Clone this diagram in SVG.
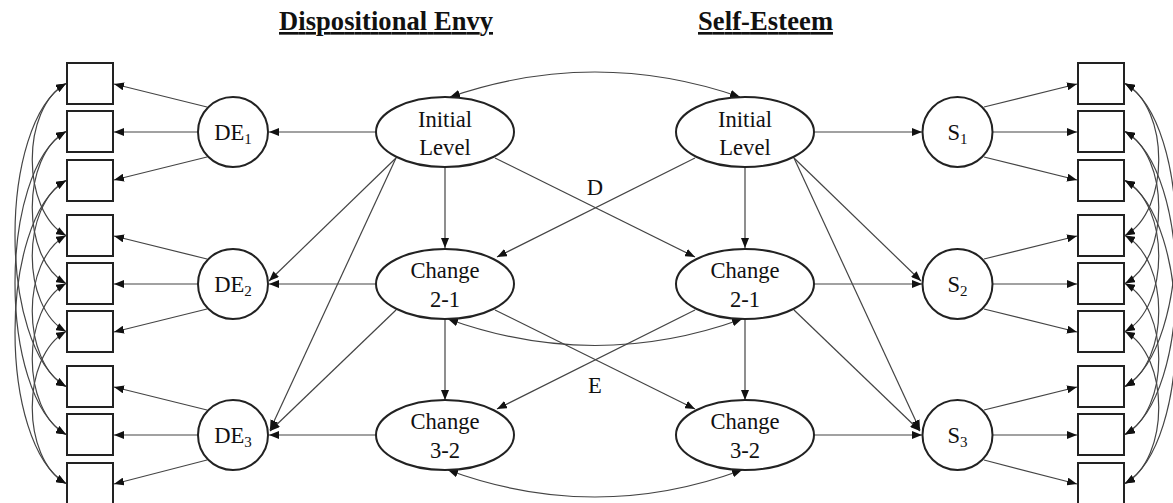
<svg xmlns="http://www.w3.org/2000/svg" width="1173" height="503" viewBox="0 0 1173 503">
<style>
.box{fill:#fff;stroke:#222;stroke-width:2}
.lat{fill:#fff;stroke:#222;stroke-width:2}
.c{fill:none;stroke:#444;stroke-width:1.2}
.a{marker-end:url(#ah)}
.d{marker-start:url(#ah);marker-end:url(#ah)}
.t{font-family:"Liberation Serif","Times New Roman",serif;font-size:22.6px;fill:#111;text-anchor:middle}
.s{font-size:15px}
.h{font-family:"Liberation Serif","Times New Roman",serif;font-size:26.5px;font-weight:bold;fill:#111;text-anchor:middle;text-decoration:underline}
</style>
<defs>
<marker id="ah" viewBox="0 0 10 8" refX="10" refY="4" markerWidth="10" markerHeight="8" markerUnits="userSpaceOnUse" orient="auto-start-reverse"><path d="M0,0 L10,4 L0,8 z" fill="#111"/></marker>
</defs>
<rect width="1173" height="503" fill="#fff"/>
<g id="titles">
<text class="h" x="386" y="30" textLength="214">Dispositional Envy</text>
<text class="h" x="765.5" y="30" textLength="135">Self-Esteem</text>
</g>
<g id="connectors">
<!-- left indicator loadings -->
<path class="c a" d="M207,107 L114,84"/>
<path class="c a" d="M198,132 L114,132"/>
<path class="c a" d="M207,157 L114,180"/>
<path class="c a" d="M207,259 L114,236"/>
<path class="c a" d="M198,284 L114,284"/>
<path class="c a" d="M207,309 L114,332"/>
<path class="c a" d="M207,410 L114,387"/>
<path class="c a" d="M198,435 L114,435"/>
<path class="c a" d="M207,460 L114,484"/>
<!-- right indicator loadings -->
<path class="c a" d="M984,107 L1077,84"/>
<path class="c a" d="M992.5,132 L1077,132"/>
<path class="c a" d="M984,157 L1077,180"/>
<path class="c a" d="M984,259 L1077,236"/>
<path class="c a" d="M992.5,284 L1077,284"/>
<path class="c a" d="M984,309 L1077,332"/>
<path class="c a" d="M984,410 L1077,387"/>
<path class="c a" d="M992.5,435 L1077,435"/>
<path class="c a" d="M984,460 L1077,484"/>
<!-- left correlated residuals -->
<path class="c d" d="M66,83.5 C21,108.5 21,210.5 66,235.5"/>
<path class="c d" d="M66,235.5 C21,260.5 21,361.5 66,386.5"/>
<path class="c d" d="M66,83.5 C-2,123.5 -2,346.5 66,386.5"/>
<path class="c d" d="M66,131.5 C21,156.5 21,258.5 66,283.5"/>
<path class="c d" d="M66,283.5 C21,308.5 21,409.5 66,434.5"/>
<path class="c d" d="M66,131.5 C-2,171.5 -2,394.5 66,434.5"/>
<path class="c d" d="M66,180.5 C21,205.5 21,306.5 66,331.5"/>
<path class="c d" d="M66,331.5 C21,356.5 21,458.5 66,483.5"/>
<path class="c d" d="M66,180.5 C-2,220.5 -2,443.5 66,483.5"/>
<!-- right correlated residuals -->
<path class="c d" d="M1125,83.5 C1170,108.5 1170,210.5 1125,235.5"/>
<path class="c d" d="M1125,235.5 C1170,260.5 1170,361.5 1125,386.5"/>
<path class="c d" d="M1125,83.5 C1193,123.5 1193,346.5 1125,386.5"/>
<path class="c d" d="M1125,131.5 C1170,156.5 1170,258.5 1125,283.5"/>
<path class="c d" d="M1125,283.5 C1170,308.5 1170,409.5 1125,434.5"/>
<path class="c d" d="M1125,131.5 C1193,171.5 1193,394.5 1125,434.5"/>
<path class="c d" d="M1125,180.5 C1170,205.5 1170,306.5 1125,331.5"/>
<path class="c d" d="M1125,331.5 C1170,356.5 1170,458.5 1125,483.5"/>
<path class="c d" d="M1125,180.5 C1193,220.5 1193,443.5 1125,483.5"/>
<!-- growth factors to latent occasions -->
<path class="c a" d="M376,132 L269,132"/>
<path class="c a" d="M376,284 L269,284"/>
<path class="c a" d="M376,435 L269,435"/>
<path class="c a" d="M814,132 L922,132"/>
<path class="c a" d="M814,284 L922,284"/>
<path class="c a" d="M814,435 L922,435"/>
<path class="c a" d="M396,158 L269,281"/>
<path class="c a" d="M396,158 L270,430"/>
<path class="c a" d="M396,310 L270,431"/>
<path class="c a" d="M794,158 L921,281"/>
<path class="c a" d="M794,158 L920,430"/>
<path class="c a" d="M794,310 L920,431"/>
<!-- structural paths -->
<path class="c a" d="M445,167 L445,248"/>
<path class="c a" d="M445,319 L445,400"/>
<path class="c a" d="M745,167 L745,248"/>
<path class="c a" d="M745,319 L745,400"/>
<path class="c a" d="M495,158 L695,257"/>
<path class="c a" d="M695,158 L497,257"/>
<path class="c a" d="M495,310 L695,409"/>
<path class="c a" d="M695,310 L497,409"/>
<!-- covariances -->
<path class="c d" d="M450,97 Q595,47 740,97"/>
<path class="c d" d="M448,319 Q595,372 742,319"/>
<path class="c d" d="M448,470 Q595,524 742,470"/>
</g>
<g id="labels">
<text class="t" x="595" y="195">D</text>
<text class="t" x="595" y="393">E</text>
</g>
<g id="left-indicators">
<rect class="box" x="67" y="63" width="46" height="41"/>
<rect class="box" x="67" y="111" width="46" height="41"/>
<rect class="box" x="67" y="160" width="46" height="41"/>
<rect class="box" x="67" y="215" width="46" height="41"/>
<rect class="box" x="67" y="263" width="46" height="41"/>
<rect class="box" x="67" y="311" width="46" height="41"/>
<rect class="box" x="67" y="366" width="46" height="41"/>
<rect class="box" x="67" y="414" width="46" height="41"/>
<rect class="box" x="67" y="463" width="46" height="41"/>
</g>
<g id="right-indicators">
<rect class="box" x="1078" y="63" width="46" height="41"/>
<rect class="box" x="1078" y="111" width="46" height="41"/>
<rect class="box" x="1078" y="160" width="46" height="41"/>
<rect class="box" x="1078" y="215" width="46" height="41"/>
<rect class="box" x="1078" y="263" width="46" height="41"/>
<rect class="box" x="1078" y="311" width="46" height="41"/>
<rect class="box" x="1078" y="366" width="46" height="41"/>
<rect class="box" x="1078" y="414" width="46" height="41"/>
<rect class="box" x="1078" y="463" width="46" height="41"/>
</g>
<g id="DE1"><circle class="lat" cx="233" cy="132" r="35"/><text class="t" x="233" y="140">DE<tspan class="s" dy="4">1</tspan></text></g>
<g id="DE2"><circle class="lat" cx="233" cy="284" r="35"/><text class="t" x="233" y="292">DE<tspan class="s" dy="4">2</tspan></text></g>
<g id="DE3"><circle class="lat" cx="233" cy="435" r="35"/><text class="t" x="233" y="443">DE<tspan class="s" dy="4">3</tspan></text></g>
<g id="S1"><circle class="lat" cx="957.5" cy="132" r="35"/><text class="t" x="957.5" y="140">S<tspan class="s" dy="4">1</tspan></text></g>
<g id="S2"><circle class="lat" cx="957.5" cy="284" r="35"/><text class="t" x="957.5" y="292">S<tspan class="s" dy="4">2</tspan></text></g>
<g id="S3"><circle class="lat" cx="957.5" cy="435" r="35"/><text class="t" x="957.5" y="443">S<tspan class="s" dy="4">3</tspan></text></g>
<g id="DE-initial"><ellipse class="lat" cx="445" cy="132" rx="69" ry="35"/><text class="t" x="445" y="127">Initial</text><text class="t" x="445" y="155">Level</text></g>
<g id="DE-change21"><ellipse class="lat" cx="445" cy="284" rx="69" ry="35"/><text class="t" x="445" y="278">Change</text><text class="t" x="445" y="307">2-1</text></g>
<g id="DE-change32"><ellipse class="lat" cx="445" cy="435" rx="69" ry="35"/><text class="t" x="445" y="429">Change</text><text class="t" x="445" y="458">3-2</text></g>
<g id="SE-initial"><ellipse class="lat" cx="745" cy="132" rx="69" ry="35"/><text class="t" x="745" y="127">Initial</text><text class="t" x="745" y="155">Level</text></g>
<g id="SE-change21"><ellipse class="lat" cx="745" cy="284" rx="69" ry="35"/><text class="t" x="745" y="278">Change</text><text class="t" x="745" y="307">2-1</text></g>
<g id="SE-change32"><ellipse class="lat" cx="745" cy="435" rx="69" ry="35"/><text class="t" x="745" y="429">Change</text><text class="t" x="745" y="458">3-2</text></g>
</svg>
